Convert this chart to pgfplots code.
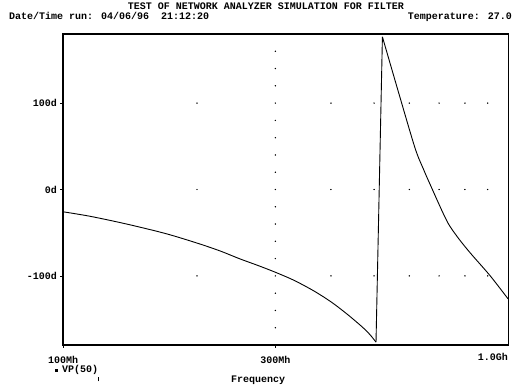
\documentclass[border=0pt]{standalone}
\usepackage{fontspec}
\setmainfont{Liberation Mono}
\usepackage{pgfplots}
\pgfplotsset{compat=1.18}
\begin{document}
\begin{tikzpicture}[x=1pt,y=1pt,every node/.style={font=\bfseries\fontsize{10}{12}\selectfont}]
\useasboundingbox (0,0) rectangle (513,390);
\begin{axis}[at={(63pt,45pt)}, anchor=south west, scale only axis,
  width=445pt, height=311pt,
  xmode=log, xmin=1e8, xmax=1e9, ymin=-180, ymax=180,
  axis line style={line width=1.1pt},
  xtick={1e8,3e8}, xticklabels={100Mh,300Mh},
  extra x ticks={1e9}, extra x tick labels={1.0Gh},
  extra x tick style={major tick length=0pt, xticklabel style={anchor=base east, xshift=0pt}},
  minor tick num=0, minor tick length=0pt,
  ytick={-100,0,100}, yticklabels={-100d,0d,100d},
  tick align=outside, tick pos=left, major tick length=3pt,
  tick style={line width=0.6pt, black},
  xticklabel style={anchor=base, inner sep=0pt, yshift=-15.5pt, font=\bfseries\fontsize{10}{12}\selectfont},
  yticklabel style={anchor=east, inner sep=0pt, xshift=-3pt, font=\bfseries\fontsize{10}{12}\selectfont},
  clip=false,
]
% grid dots
\addplot[only marks, mark=*, mark size=0.45pt, black] coordinates {
(3e8,-160)(3e8,-140)(3e8,-120)(3e8,-100)(3e8,-80)(3e8,-60)(3e8,-40)(3e8,-20)(3e8,0)
(3e8,20)(3e8,40)(3e8,60)(3e8,80)(3e8,100)(3e8,120)(3e8,140)(3e8,160)
(2e8,100)(4e8,100)(5e8,100)(6e8,100)(7e8,100)(8e8,100)(9e8,100)
(2e8,0)(4e8,0)(5e8,0)(6e8,0)(7e8,0)(8e8,0)(9e8,0)
(2e8,-100)(4e8,-100)(5e8,-100)(6e8,-100)(7e8,-100)(8e8,-100)(9e8,-100)
};
% phase curve VP(50): branch below -180
\addplot[line width=0.9pt, black, smooth, tension=0.5] table {
1e8 -25.8
1.15e8 -31
1.39e8 -40
1.7e8 -51
2e8 -62
2.25e8 -71
2.5e8 -80.4
2.75e8 -88.2
3e8 -95.8
3.3e8 -105
3.65e8 -117
4e8 -130
4.34e8 -143.9
4.7e8 -159
4.9e8 -168.3
5.05e8 -176.7
};
% phase wrap
\addplot[line width=0.9pt, black] table {
5.05e8 -176.7
5.22e8 176.7
};
% branch after wrap
\addplot[line width=0.9pt, black, smooth, tension=0.5] table {
5.22e8 176.7
5.67e8 113
6.18e8 48
6.45e8 24
6.68e8 6
7.28e8 -36
7.7e8 -55
8.21e8 -73
9.11e8 -99.7
1e9 -126.6
};
\end{axis}
\node[anchor=base, inner sep=0pt] at (266,380) {TEST OF NETWORK ANALYZER SIMULATION FOR FILTER};
\node[anchor=base west, inner sep=0pt] at (9,370.5) {Date/Time run: 04/06/96\ \ 21:12:20};
\node[anchor=base east, inner sep=0pt] at (512,370) {Temperature: 27.0};
\node[anchor=base west, inner sep=0pt] at (55,17) {\makebox[7pt][l]{\raisebox{1.2pt}{\rule{3pt}{3pt}}}VP(50)};
\node[anchor=base, inner sep=0pt] at (98,8.5) {\rule{0.8pt}{5pt}};
\node[anchor=base] at (258,7.5) {Frequency};
\end{tikzpicture}
\end{document}
